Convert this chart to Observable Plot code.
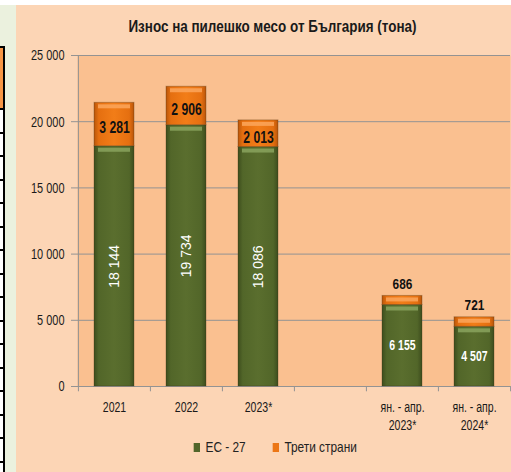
<!DOCTYPE html>
<html>
<head>
<meta charset="utf-8">
<script src="https://cdn.jsdelivr.net/npm/d3@7"></script>
<script src="https://cdn.jsdelivr.net/npm/@observablehq/plot@0.6"></script>
<style>
  html, body { margin: 0; padding: 0; }
  body { width: 511px; height: 472px; overflow: hidden; position: relative; background: #ffffff;
         font-family: "Liberation Sans", Arial, sans-serif; }
  #strip { position: absolute; left: 0; top: 5px; width: 16px; height: 467px; background: #ebf1de; }
  #tblTop { position: absolute; left: 0; top: 46px; width: 3px; height: 62px; background: #f79646;
            border-top: 2px solid #000; border-right: 2px solid #000; }
  #tblRows { position: absolute; left: 0; top: 108px; width: 3px; height: 364px; border-right: 2px solid #000;
             background: repeating-linear-gradient(to bottom, #000 0px, #000 2px, #fff 2px, #fff 23.5px); }
  #panel { position: absolute; left: 16px; top: 5px; width: 495px; height: 467px; background: #fcd5b5; }
  #title { height: 38px; line-height: 43px; text-align: center; font-weight: bold; font-size: 16px;
           color: #1a1a1a; padding-left: 17px; box-sizing: border-box; white-space: nowrap; }
  #title .narrow { display: inline-block; transform: scaleX(0.84); transform-origin: center; }
  #chart svg { display: block; }
  #legend { height: 22px; line-height: 22px; text-align: center; font-size: 15px; color: #222;
            padding-left: 24px; box-sizing: border-box; white-space: nowrap; }
  #legend .narrow { display: inline-block; transform: scaleX(0.79); transform-origin: center; }
  #legend .item { display: inline-block; margin: 0 17px; }
  #legend .sw { display: inline-block; width: 8px; height: 9px; margin-right: 7px; vertical-align: 0px; }
</style>
</head>
<body>
<div id="strip"></div>
<div id="tblTop"></div>
<div id="tblRows"></div>
<div id="panel">
  <div id="title"><span class="narrow">Износ на пилешко месо от България (тона)</span></div>
  <div id="chart"></div>
  <div id="legend"><span class="narrow" id="legendInner"></span></div>
</div>
<script>
// ---- data ----
const categories = ["2021", "2022", "2023*", "gap", "jan-apr-2023", "jan-apr-2024"];
const categoryLabels = ["2021", "2022", "2023*", "", "ян. - апр.\n2023*", "ян. - апр.\n2024*"];
const annualCategories = ["2021", "2022", "2023*"];
const seriesNames = ["ЕС - 27", "Трети страни"];
const euValues = [18144, 19734, 18086, null, 6155, 4507];
const thirdValues = [3281, 2906, 2013, null, 686, 721];
const yTicks = [0, 5000, 10000, 15000, 20000, 25000];

// ---- build table ----
const rows = [];
categories.forEach((c, i) => {
  if (euValues[i] != null) rows.push({cat: c, series: seriesNames[0], value: euValues[i]});
  if (thirdValues[i] != null) rows.push({cat: c, series: seriesNames[1], value: thirdValues[i]});
});
const labelOf = Object.fromEntries(categories.map((c, i) => [c, categoryLabels[i]]));
const isAnnual = c => annualCategories.includes(c);
const isEU = d => d.series === seriesNames[0];
const fmt = v => d3.format(",")(v).replace(/,/g, " ");

const fills = {[seriesNames[0]]: "url(#gEU)", [seriesNames[1]]: "url(#gTS)"};
const bevels = {[seriesNames[0]]: "#8aa35e", [seriesNames[1]]: "#fba65c"};

const W = 495, H = 393, ML = 61, MR = 1, MT = 12, MB = 50;
const step = (W - ML - MR) / categories.length;
const font = "'Liberation Sans',Arial,sans-serif";

// font sizes of the text marks and the horizontal squeeze that imitates a narrow face
const FS = {yTick: 15, xLabel: 15.5, thirdIn: 16.5, thirdAbove: 15.2, euQuarter: 14.8};
const squeeze = {15: 0.73, 15.5: 0.68, 16.5: 0.74, 15.2: 0.78, 14.8: 0.71};

const svg = Plot.plot({
  width: W, height: H,
  marginLeft: ML, marginRight: MR, marginTop: MT, marginBottom: MB,
  style: {background: "transparent", fontFamily: font, fontSize: "13px", color: "#1a1a1a"},
  x: {domain: categories, paddingInner: 0.446, paddingOuter: 0.223, axis: null},
  y: {domain: [0, 25000], axis: null},
  marks: [
    Plot.frame({fill: "#fac090", stroke: null}),
    Plot.gridY(yTicks, {stroke: "#939393", strokeOpacity: 1}),
    Plot.axisY(yTicks, {tickFormat: fmt, tickSize: 6, tickPadding: 7, stroke: "#939393",
      fill: "#1a1a1a", fontSize: FS.yTick, label: null}),
    // y axis line + bottom tick at the left edge
    Plot.ruleX([categories[0]], {x: d => d, dx: -step / 2, y1: -400, y2: 25000, stroke: "#939393"}),
    // category boundary ticks
    Plot.ruleX(categories.slice(1), {x: d => d, dx: -step / 2, y1: -400, y2: 0, stroke: "#939393"}),
    Plot.ruleX([categories[categories.length - 1]], {x: d => d, dx: step / 2, y1: -400, y2: 0, stroke: "#939393"}),
    Plot.ruleY([0], {stroke: "#939393"}),
    // stacked bars
    Plot.barY(rows, Plot.stackY({x: "cat", y: "value", z: "series", fill: d => fills[d.series],
      stroke: "#3b2a12", strokeOpacity: 0.3, strokeWidth: 1})),
    // bevel highlight at the top of each segment
    Plot.tickY(rows, Plot.stackY2({x: "cat", y: "value", z: "series", stroke: d => bevels[d.series],
      strokeWidth: 4, strokeOpacity: 0.85, dy: 3.5, insetLeft: 4, insetRight: 4})),
    // EU labels, annual (rotated)
    Plot.text(rows, Plot.stackY({x: "cat", y: "value", z: "series",
      text: d => (isEU(d) && isAnnual(d.cat)) ? fmt(d.value) : "",
      rotate: -90, fill: "white", fontSize: 14})),
    // EU labels, Jan-Apr
    Plot.text(rows, Plot.stackY({x: "cat", y: "value", z: "series",
      text: d => (isEU(d) && !isAnnual(d.cat)) ? fmt(d.value) : "",
      fill: "white", fontSize: FS.euQuarter, fontWeight: "bold"})),
    // third-country labels, annual (inside)
    Plot.text(rows, Plot.stackY({x: "cat", y: "value", z: "series",
      text: d => (!isEU(d) && isAnnual(d.cat)) ? fmt(d.value) : "",
      fill: "#111", fontSize: FS.thirdIn, fontWeight: "bold", dy: 3.5})),
    // third-country labels, Jan-Apr (above)
    Plot.text(rows, Plot.stackY2({x: "cat", y: "value", z: "series",
      text: d => (!isEU(d) && !isAnnual(d.cat)) ? fmt(d.value) : "",
      fill: "#111", fontSize: FS.thirdAbove, fontWeight: "bold", dy: -12})),
    // category labels
    Plot.text(categories, {x: d => d, frameAnchor: "bottom", text: d => labelOf[d],
      lineAnchor: "top", dy: 12, lineHeight: 1.2, fontSize: FS.xLabel, fill: "#1a1a1a"})
  ]
});

// gradients for 3D-looking bars
const defs = d3.select(svg).insert("defs", ":first-child");
function grad(id, edge, mid, center) {
  const g = defs.append("linearGradient").attr("id", id).attr("x1", 0).attr("x2", 1).attr("y1", 0).attr("y2", 0);
  [[0, edge], [0.12, mid], [0.5, center], [0.88, mid], [1, edge]].forEach(([o, c]) =>
    g.append("stop").attr("offset", o).attr("stop-color", c));
}
grad("gEU", "#3d4d1d", "#526629", "#5a6e2e");
grad("gTS", "#b9560a", "#e56f10", "#f27d18");

// emulate a narrow (condensed) face: horizontal scale of each unrotated text
d3.select(svg).selectAll("text").each(function () {
  const t = this.getAttribute("transform") || "";
  if (t.includes("rotate")) return;
  const holder = this.closest("[font-size]");
  const size = holder ? parseFloat(holder.getAttribute("font-size")) : NaN;
  const s = squeeze[size] ?? 0.75;
  const x = this.getAttribute("x");
  let base = t;
  if (x != null && isFinite(+x) && +x !== 0) {
    base = `${t} translate(${+x},0)`;
    this.removeAttribute("x");
  }
  this.setAttribute("transform", `${base} scale(${s},1)`);
});

document.getElementById("chart").appendChild(svg);

// legend
const legendColors = ["#51652a", "#ec7615"];
const legend = document.getElementById("legendInner");
seriesNames.forEach((s, i) => {
  const item = document.createElement("span");
  item.className = "item";
  item.innerHTML = `<span class="sw" style="background:${legendColors[i]}"></span>${s}`;
  legend.appendChild(item);
});
</script>
</body>
</html>
